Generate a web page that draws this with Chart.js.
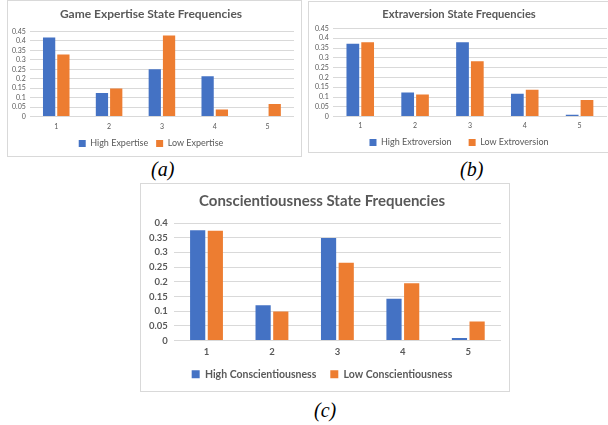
<!DOCTYPE html>
<html>
<head>
<meta charset="utf-8">
<script src="https://cdn.jsdelivr.net/npm/chart.js@4/dist/chart.umd.min.js"></script>
<style>
  body { margin: 0; background: #fff; width: 608px; height: 425px; position: relative; overflow: hidden; }
  .panel { position: absolute; border: 1px solid #d9d9d9; box-sizing: border-box; background: #fff; }
  .cap { position: absolute; font-family: "Liberation Serif", "DejaVu Serif", serif; font-style: italic; font-size: 20px; color: #000; }
</style>
</head>
<body>
<div class="panel" style="left:7px; top:0px; width:295px; height:157px;"><canvas id="chartA" width="293" height="155"></canvas></div>
<div class="panel" style="left:308px; top:1px; width:302px; height:152px;"><canvas id="chartB" width="300" height="150"></canvas></div>
<div class="panel" style="left:140px; top:183px; width:370px; height:209px;"><canvas id="chartC" width="368" height="207"></canvas></div>
<div class="cap" style="left:151px; top:158px;">(a)</div>
<div class="cap" style="left:460px; top:158px;">(b)</div>
<div class="cap" style="left:314px; top:399px;">(c)</div>

<script>
const states = ['1', '2', '3', '4', '5'];

// Game expertise
const highExpertise = [0.418, 0.124, 0.25, 0.213, 0];
const lowExpertise = [0.328, 0.149, 0.429, 0.037, 0.066];

// Extraversion
const highExtroversion = [0.372, 0.123, 0.379, 0.116, 0.009];
const lowExtroversion = [0.38, 0.113, 0.283, 0.137, 0.085];

// Conscientiousness
const highConsc = [0.375, 0.12, 0.349, 0.142, 0.009];
const lowConsc = [0.374, 0.099, 0.265, 0.195, 0.065];

const BLUE = '#4472C4';
const ORANGE = '#ED7D31';
const GREY = '#595959';

// legend padding sets the gap between items; this keeps the legend box height
// separate from it (like Excel, wide gaps between entries but a short legend)
const legendTweak = {
  id: 'legendTweak',
  beforeLayout(chart) {
    const lg = chart.legend;
    if (!lg || lg._tweaked) return;
    const o = chart.options.plugins.legendTweak;
    const fit = lg.fit;
    lg.fit = function () { fit.call(this); this.height = o.height; };
    lg._tweaked = true;
  },
  afterLayout(chart) {
    const lg = chart.legend;
    const o = chart.options.plugins.legendTweak;
    const shift = lg.options.labels.padding - o.gap;
    lg.top -= shift;
  }
};

function makeChart(id, title, names, high, low, o) {
  return new Chart(document.getElementById(id), {
    type: 'bar',
    data: {
      labels: states,
      datasets: [
        { label: names[0], data: high, backgroundColor: BLUE, categoryPercentage: 0.54, barPercentage: o.barPct },
        { label: names[1], data: low, backgroundColor: ORANGE, categoryPercentage: 0.54, barPercentage: o.barPct }
      ]
    },
    plugins: [legendTweak],
    options: {
      responsive: false,
      animation: false,
      layout: { padding: o.padding },
      plugins: {
        title: {
          display: true, text: title, color: GREY,
          font: { family: 'Lato', size: o.titleSize, weight: 'bold' },
          padding: o.titlePad
        },
        legend: {
          position: 'bottom',
          labels: {
            color: GREY, boxWidth: o.box, boxHeight: o.box, padding: o.legendPad,
            font: { family: 'Lato', size: o.legendSize, weight: o.legendWeight }
          }
        },
        legendTweak: { height: o.legendH, gap: o.legendGap },
        tooltip: { enabled: false }
      },
      scales: {
        x: {
          grid: { display: false, drawTicks: false },
          border: { display: false },
          ticks: { color: GREY, padding: o.xPad, font: { family: 'Lato', size: o.tickSize, weight: o.legendWeight } }
        },
        y: {
          min: 0, max: o.max,
          grid: { color: '#d9d9d9', drawTicks: false },
          border: { display: false },
          ticks: {
            stepSize: 0.05, autoSkip: false, color: GREY, padding: o.yPad,
            font: { family: 'Lato', size: o.tickSize, weight: o.legendWeight },
            callback: v => String(+v.toFixed(2))
          }
        }
      }
    }
  });
}

makeChart('chartA', 'Game Expertise State Frequencies', ['High Expertise', 'Low Expertise'],
  highExpertise, lowExpertise,
  { max: 0.45, barPct: 0.86, padding: { left: 0, right: 7, top: 4, bottom: 0 }, titleSize: 12, titlePad: { top: 2, bottom: 10 },
    box: 7, legendPad: 8, legendH: 19, legendGap: 2, legendSize: 9, legendWeight: 'normal', tickSize: 7, xPad: 6, yPad: 4 });

makeChart('chartB', 'Extraversion State Frequencies', ['High Extroversion', 'Low Extroversion'],
  highExtroversion, lowExtroversion,
  { max: 0.45, barPct: 0.86, padding: { left: 2, right: 2, top: 4, bottom: 0 }, titleSize: 11.2, titlePad: { top: 2, bottom: 7 },
    box: 7, legendPad: 17, legendH: 17, legendGap: 3, legendSize: 9, legendWeight: 'normal', tickSize: 7, xPad: 5, yPad: 4 });

makeChart('chartC', 'Conscientiousness State Frequencies', ['High Conscientiousness', 'Low Conscientiousness'],
  highConsc, lowConsc,
  { max: 0.4, barPct: 0.86, padding: { left: 2, right: 8, top: 4, bottom: 2 }, titleSize: 15, titlePad: { top: 4, bottom: 13 },
    box: 8, legendPad: 14, legendH: 25, legendGap: 5, legendSize: 10.5, legendWeight: 'bold', tickSize: 9.5, xPad: 6, yPad: 6 });
</script>
</body>
</html>
